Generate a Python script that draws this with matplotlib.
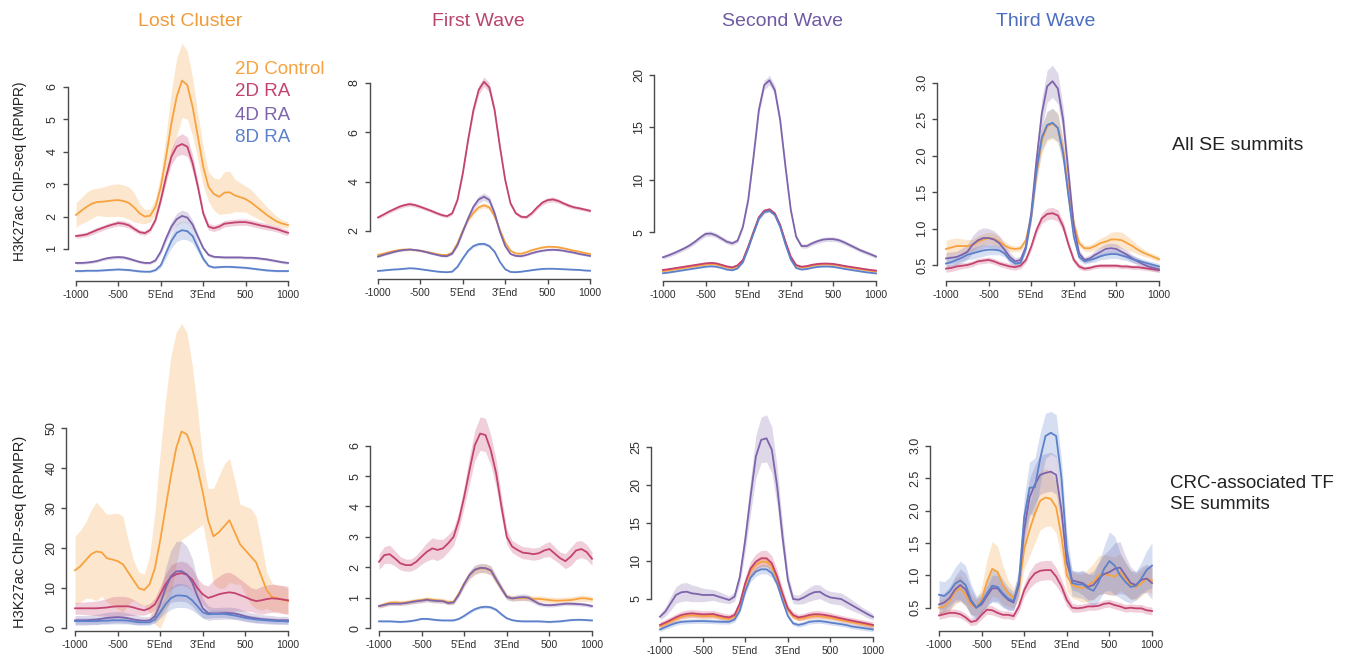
import matplotlib
matplotlib.use("Agg")
import matplotlib.pyplot as plt
import numpy as np

plt.rcParams['font.family'] = ['Liberation Sans', 'DejaVu Sans']

W, H = 1353, 655

# 41 bins: -1000 .. 5'End | gene body | 3'End .. 1000
positions = np.arange(0, 100.1, 2.5)
x_ticks = [0, 20, 40, 60, 80, 100]
x_tick_labels = ['-1000', '-500', "5'End", "3'End", '500', '1000']

samples = ['2D Control', '2D RA', '4D RA', '8D RA']
sample_colors = ['#F7A23E', '#C4426F', '#7D64AB', '#5D80CA']
groups = ['Lost Cluster', 'First Wave', 'Second Wave', 'Third Wave']
group_colors = ['#F39A38', '#B9456F', '#6F5AA3', '#4C6CBE']
row_labels = ['All SE summits', 'CRC-associated TF\nSE summits']
y_label = 'H3K27ac ChIP-seq (RPMPR)'

# ---------------- row 1: all SE summits ----------------
all_lost_ctrl = [2.05, 2.18, 2.30, 2.40, 2.45, 2.46, 2.48, 2.50, 2.51, 2.48,
                 2.42, 2.28, 2.10, 2.00, 2.03, 2.30, 2.92, 3.85, 4.88, 5.70,
                 6.20, 6.06, 5.39, 4.47, 3.54, 2.92, 2.70, 2.61, 2.74, 2.75,
                 2.65, 2.60, 2.54, 2.44, 2.31, 2.18, 2.05, 1.94, 1.84, 1.78,
                 1.74]
all_lost_ctrl_se = [0.38, 0.40, 0.45, 0.45, 0.42, 0.45, 0.48, 0.50, 0.50, 0.50,
                    0.50, 0.45, 0.30, 0.22, 0.20, 0.25, 0.40, 0.70, 1.00, 1.20,
                    1.15, 1.05, 0.90, 0.70, 0.60, 0.45, 0.50, 0.55, 0.65, 0.65,
                    0.50, 0.45, 0.40, 0.40, 0.35, 0.30, 0.25, 0.20, 0.15, 0.12,
                    0.10]
all_lost_ra2 = [1.40, 1.42, 1.45, 1.52, 1.59, 1.65, 1.71, 1.76, 1.80, 1.78,
                1.73, 1.62, 1.52, 1.49, 1.59, 1.90, 2.51, 3.23, 3.85, 4.16,
                4.24, 4.16, 3.65, 2.92, 2.10, 1.69, 1.64, 1.69, 1.78, 1.80,
                1.82, 1.83, 1.83, 1.80, 1.76, 1.72, 1.69, 1.65, 1.61, 1.55,
                1.50]
all_lost_ra2_se = [0.07, 0.07, 0.07, 0.08, 0.08, 0.08, 0.08, 0.08, 0.09, 0.09,
                   0.09, 0.08, 0.07, 0.07, 0.07, 0.08, 0.12, 0.18, 0.25, 0.30,
                   0.32, 0.30, 0.25, 0.18, 0.12, 0.10, 0.10, 0.10, 0.10, 0.10,
                   0.10, 0.10, 0.10, 0.10, 0.10, 0.10, 0.10, 0.09, 0.09, 0.09,
                   0.09]
all_lost_ra4 = [0.57, 0.57, 0.58, 0.60, 0.63, 0.68, 0.72, 0.74, 0.75, 0.74,
                0.70, 0.65, 0.60, 0.57, 0.57, 0.65, 0.92, 1.33, 1.69, 1.92,
                2.02, 1.97, 1.75, 1.38, 1.03, 0.82, 0.76, 0.75, 0.74, 0.74,
                0.74, 0.74, 0.73, 0.73, 0.72, 0.70, 0.68, 0.65, 0.62, 0.59,
                0.57]
all_lost_ra4_se = [0.04, 0.04, 0.04, 0.04, 0.04, 0.04, 0.05, 0.05, 0.05, 0.05,
                   0.05, 0.04, 0.04, 0.04, 0.04, 0.05, 0.08, 0.12, 0.16, 0.18,
                   0.18, 0.17, 0.14, 0.10, 0.06, 0.05, 0.04, 0.04, 0.04, 0.04,
                   0.04, 0.04, 0.04, 0.04, 0.04, 0.04, 0.04, 0.04, 0.04, 0.04,
                   0.04]
all_lost_ra8 = [0.32, 0.32, 0.33, 0.33, 0.33, 0.34, 0.35, 0.36, 0.37, 0.36,
                0.35, 0.33, 0.31, 0.30, 0.30, 0.35, 0.50, 0.88, 1.25, 1.50,
                1.58, 1.55, 1.40, 1.05, 0.70, 0.48, 0.43, 0.44, 0.45, 0.45,
                0.44, 0.43, 0.42, 0.40, 0.38, 0.36, 0.34, 0.33, 0.32, 0.32,
                0.32]
all_lost_ra8_se = [0.03, 0.03, 0.03, 0.03, 0.03, 0.03, 0.03, 0.03, 0.03, 0.03,
                   0.03, 0.03, 0.03, 0.03, 0.03, 0.04, 0.08, 0.15, 0.22, 0.27,
                   0.28, 0.27, 0.22, 0.15, 0.08, 0.04, 0.03, 0.03, 0.03, 0.03,
                   0.03, 0.03, 0.03, 0.03, 0.03, 0.03, 0.03, 0.03, 0.03, 0.03,
                   0.03]

all_first_ctrl = [1.03, 1.08, 1.14, 1.19, 1.23, 1.25, 1.25, 1.23, 1.20, 1.16,
                  1.12, 1.07, 1.03, 1.03, 1.12, 1.50, 2.02, 2.45, 2.74, 2.96,
                  3.04, 2.96, 2.60, 2.04, 1.53, 1.20, 1.09, 1.08, 1.14, 1.22,
                  1.28, 1.33, 1.36, 1.36, 1.34, 1.30, 1.25, 1.20, 1.16, 1.11,
                  1.07]
all_first_ctrl_se = [0.04, 0.04, 0.04, 0.04, 0.04, 0.04, 0.04, 0.04, 0.04, 0.04,
                     0.04, 0.04, 0.04, 0.04, 0.04, 0.05, 0.06, 0.08, 0.09, 0.10,
                     0.10, 0.10, 0.09, 0.07, 0.05, 0.04, 0.04, 0.04, 0.04, 0.04,
                     0.04, 0.04, 0.04, 0.04, 0.04, 0.04, 0.04, 0.04, 0.04, 0.04,
                     0.04]
all_first_ra2 = [2.55, 2.66, 2.78, 2.88, 2.98, 3.05, 3.09, 3.05, 2.98, 2.90,
                 2.82, 2.73, 2.65, 2.60, 2.72, 3.26, 4.34, 5.69, 6.90, 7.72,
                 8.05, 7.82, 6.90, 5.42, 4.07, 3.12, 2.72, 2.58, 2.56, 2.72,
                 2.95, 3.15, 3.25, 3.28, 3.22, 3.12, 3.03, 2.96, 2.92, 2.87,
                 2.82]
all_first_ra2_se = [0.07, 0.07, 0.07, 0.08, 0.08, 0.08, 0.08, 0.08, 0.07, 0.07,
                    0.07, 0.07, 0.07, 0.07, 0.07, 0.08, 0.10, 0.13, 0.16, 0.19,
                    0.20, 0.19, 0.16, 0.13, 0.10, 0.08, 0.07, 0.07, 0.07, 0.08,
                    0.09, 0.10, 0.10, 0.10, 0.09, 0.08, 0.08, 0.07, 0.07, 0.07,
                    0.07]
all_first_ra4 = [0.96, 1.03, 1.09, 1.15, 1.20, 1.23, 1.25, 1.23, 1.20, 1.15,
                 1.09, 1.04, 0.99, 0.98, 1.08, 1.43, 1.97, 2.51, 2.98, 3.28,
                 3.39, 3.26, 2.72, 1.97, 1.39, 1.07, 0.99, 0.98, 1.03, 1.10,
                 1.16, 1.20, 1.23, 1.24, 1.23, 1.20, 1.16, 1.12, 1.07, 1.03,
                 0.99]
all_first_ra4_se = [0.04, 0.04, 0.04, 0.04, 0.04, 0.04, 0.04, 0.04, 0.04, 0.04,
                    0.04, 0.04, 0.04, 0.04, 0.04, 0.05, 0.07, 0.10, 0.13, 0.15,
                    0.15, 0.14, 0.12, 0.09, 0.06, 0.04, 0.04, 0.04, 0.04, 0.04,
                    0.04, 0.04, 0.04, 0.04, 0.04, 0.04, 0.04, 0.04, 0.04, 0.04,
                    0.04]
all_first_ra8 = [0.38, 0.40, 0.42, 0.44, 0.45, 0.47, 0.49, 0.48, 0.45, 0.42,
                 0.39, 0.36, 0.34, 0.33, 0.35, 0.55, 0.89, 1.20, 1.39, 1.47,
                 1.48, 1.39, 1.16, 0.75, 0.45, 0.34, 0.33, 0.35, 0.38, 0.41,
                 0.44, 0.46, 0.47, 0.47, 0.46, 0.45, 0.44, 0.43, 0.42, 0.40,
                 0.39]
all_first_ra8_se = [0.02, 0.02, 0.02, 0.02, 0.02, 0.02, 0.02, 0.02, 0.02, 0.02,
                    0.02, 0.02, 0.02, 0.02, 0.02, 0.03, 0.04, 0.05, 0.06, 0.06,
                    0.06, 0.06, 0.05, 0.04, 0.03, 0.02, 0.02, 0.02, 0.02, 0.02,
                    0.02, 0.02, 0.02, 0.02, 0.02, 0.02, 0.02, 0.02, 0.02, 0.02,
                    0.02]

all_second_ctrl = [1.30, 1.36, 1.44, 1.52, 1.60, 1.68, 1.76, 1.84, 1.92, 1.96,
                   1.92, 1.80, 1.65, 1.58, 1.76, 2.30, 3.55, 4.98, 6.35, 6.98,
                   7.10, 6.72, 5.62, 4.00, 2.58, 1.80, 1.64, 1.70, 1.82, 1.90,
                   1.94, 1.94, 1.90, 1.82, 1.72, 1.64, 1.56, 1.48, 1.40, 1.33,
                   1.27]
all_second_ctrl_se = [0.08, 0.08, 0.08, 0.08, 0.08, 0.08, 0.08, 0.08, 0.08, 0.08,
                      0.08, 0.08, 0.08, 0.08, 0.08, 0.09, 0.11, 0.13, 0.15, 0.15,
                      0.15, 0.15, 0.13, 0.11, 0.09, 0.08, 0.08, 0.08, 0.08, 0.08,
                      0.08, 0.08, 0.08, 0.08, 0.08, 0.08, 0.08, 0.08, 0.08, 0.08,
                      0.08]
all_second_ra2 = [1.41, 1.48, 1.56, 1.64, 1.72, 1.80, 1.88, 1.96, 2.04, 2.08,
                  2.04, 1.90, 1.75, 1.66, 1.85, 2.36, 3.63, 5.06, 6.43, 7.06,
                  7.19, 6.80, 5.70, 4.10, 2.67, 1.88, 1.72, 1.78, 1.90, 1.98,
                  2.02, 2.02, 1.98, 1.90, 1.80, 1.72, 1.64, 1.56, 1.48, 1.41,
                  1.35]
all_second_ra2_se = [0.08, 0.08, 0.08, 0.08, 0.08, 0.09, 0.09, 0.09, 0.09, 0.09,
                     0.09, 0.09, 0.08, 0.08, 0.08, 0.09, 0.11, 0.14, 0.16, 0.17,
                     0.17, 0.16, 0.14, 0.11, 0.09, 0.08, 0.08, 0.08, 0.09, 0.09,
                     0.09, 0.09, 0.09, 0.08, 0.08, 0.08, 0.08, 0.08, 0.08, 0.08,
                     0.08]
all_second_ra4 = [2.62, 2.80, 3.00, 3.23, 3.47, 3.75, 4.10, 4.50, 4.85, 4.88,
                  4.70, 4.40, 4.10, 3.95, 4.20, 5.53, 8.08, 12.20, 16.66, 19.04,
                  19.50, 18.56, 15.70, 11.25, 7.13, 4.58, 3.69, 3.69, 3.95, 4.15,
                  4.30, 4.35, 4.35, 4.25, 4.05, 3.80, 3.55, 3.30, 3.10, 2.90,
                  2.69]
all_second_ra4_se = [0.18, 0.18, 0.19, 0.20, 0.20, 0.21, 0.22, 0.23, 0.24, 0.24,
                     0.23, 0.22, 0.21, 0.20, 0.21, 0.24, 0.30, 0.36, 0.42, 0.45,
                     0.46, 0.45, 0.40, 0.34, 0.27, 0.22, 0.20, 0.20, 0.21, 0.22,
                     0.22, 0.22, 0.22, 0.21, 0.21, 0.20, 0.20, 0.19, 0.19, 0.18,
                     0.18]
all_second_ra8 = [1.10, 1.16, 1.24, 1.32, 1.40, 1.48, 1.56, 1.64, 1.72, 1.76,
                  1.72, 1.60, 1.45, 1.38, 1.56, 2.15, 3.45, 4.90, 6.28, 6.92,
                  7.05, 6.65, 5.52, 3.85, 2.40, 1.60, 1.45, 1.50, 1.62, 1.70,
                  1.74, 1.74, 1.70, 1.62, 1.52, 1.44, 1.36, 1.28, 1.20, 1.14,
                  1.08]
all_second_ra8_se = [0.07, 0.07, 0.07, 0.07, 0.07, 0.07, 0.07, 0.08, 0.08, 0.08,
                     0.08, 0.07, 0.07, 0.07, 0.07, 0.08, 0.10, 0.12, 0.14, 0.15,
                     0.15, 0.14, 0.12, 0.10, 0.08, 0.07, 0.07, 0.07, 0.07, 0.07,
                     0.07, 0.07, 0.07, 0.07, 0.07, 0.07, 0.07, 0.07, 0.07, 0.07,
                     0.07]

all_third_ctrl = [0.72, 0.74, 0.76, 0.76, 0.76, 0.77, 0.82, 0.85, 0.87, 0.86,
                  0.82, 0.77, 0.73, 0.72, 0.73, 0.84, 1.16, 1.76, 2.21, 2.40,
                  2.44, 2.38, 2.08, 1.53, 1.07, 0.80, 0.73, 0.73, 0.76, 0.80,
                  0.82, 0.85, 0.85, 0.84, 0.80, 0.76, 0.71, 0.67, 0.64, 0.61,
                  0.58]
all_third_ctrl_se = [0.12, 0.12, 0.11, 0.10, 0.09, 0.08, 0.08, 0.08, 0.08, 0.08,
                     0.07, 0.06, 0.05, 0.04, 0.04, 0.05, 0.08, 0.13, 0.18, 0.20,
                     0.21, 0.20, 0.17, 0.12, 0.08, 0.05, 0.04, 0.05, 0.06, 0.07,
                     0.08, 0.10, 0.11, 0.11, 0.10, 0.08, 0.06, 0.05, 0.04, 0.04,
                     0.04]
all_third_ra2 = [0.45, 0.46, 0.48, 0.49, 0.50, 0.52, 0.55, 0.56, 0.57, 0.55,
                 0.52, 0.50, 0.48, 0.47, 0.49, 0.57, 0.75, 0.98, 1.14, 1.20,
                 1.21, 1.18, 1.03, 0.78, 0.57, 0.48, 0.45, 0.46, 0.48, 0.49,
                 0.49, 0.49, 0.49, 0.48, 0.48, 0.47, 0.47, 0.46, 0.45, 0.44,
                 0.43]
all_third_ra2_se = [0.05, 0.05, 0.05, 0.04, 0.04, 0.04, 0.04, 0.04, 0.04, 0.04,
                    0.04, 0.04, 0.04, 0.04, 0.04, 0.04, 0.05, 0.06, 0.07, 0.08,
                    0.08, 0.08, 0.07, 0.06, 0.04, 0.04, 0.03, 0.03, 0.03, 0.03,
                    0.03, 0.03, 0.03, 0.03, 0.03, 0.03, 0.03, 0.03, 0.03, 0.03,
                    0.03]
all_third_ra4 = [0.59, 0.60, 0.61, 0.64, 0.68, 0.78, 0.84, 0.87, 0.87, 0.85,
                 0.80, 0.71, 0.61, 0.55, 0.57, 0.75, 1.21, 1.94, 2.58, 2.95,
                 3.02, 2.92, 2.49, 1.76, 1.03, 0.66, 0.57, 0.59, 0.64, 0.68,
                 0.72, 0.73, 0.72, 0.68, 0.64, 0.59, 0.55, 0.51, 0.48, 0.46,
                 0.44]
all_third_ra4_se = [0.08, 0.08, 0.08, 0.09, 0.10, 0.12, 0.14, 0.14, 0.13, 0.12,
                    0.10, 0.08, 0.06, 0.05, 0.05, 0.06, 0.10, 0.15, 0.20, 0.22,
                    0.22, 0.21, 0.18, 0.13, 0.08, 0.05, 0.04, 0.05, 0.06, 0.07,
                    0.07, 0.07, 0.07, 0.06, 0.06, 0.05, 0.05, 0.04, 0.04, 0.04,
                    0.04]
all_third_ra8 = [0.52, 0.54, 0.57, 0.60, 0.64, 0.66, 0.68, 0.70, 0.71, 0.71,
                 0.70, 0.66, 0.57, 0.52, 0.53, 0.73, 1.16, 1.80, 2.25, 2.42,
                 2.45, 2.38, 2.03, 1.44, 0.89, 0.61, 0.55, 0.57, 0.59, 0.62,
                 0.64, 0.65, 0.65, 0.63, 0.61, 0.58, 0.56, 0.54, 0.52, 0.50,
                 0.48]
all_third_ra8_se = [0.07, 0.07, 0.07, 0.07, 0.07, 0.08, 0.08, 0.08, 0.07, 0.07,
                    0.06, 0.05, 0.05, 0.04, 0.04, 0.05, 0.08, 0.13, 0.17, 0.19,
                    0.20, 0.19, 0.16, 0.11, 0.07, 0.05, 0.04, 0.04, 0.05, 0.05,
                    0.06, 0.06, 0.06, 0.06, 0.05, 0.05, 0.04, 0.04, 0.04, 0.04,
                    0.04]

# ---------------- row 2: CRC-associated TF SE summits ----------------
crc_lost_ctrl = [14.5, 15.5, 17.0, 18.5, 19.2, 19.0, 17.5, 17.2, 16.8, 16.0,
                 14.0, 12.0, 10.0, 9.6, 11.0, 15.0, 22.0, 30.0, 38.0, 45.0,
                 49.2, 48.5, 45.0, 40.0, 34.0, 27.0, 23.0, 24.0, 25.5, 27.0,
                 24.0, 21.0, 19.5, 18.0, 16.5, 13.0, 9.5, 7.8, 7.5, 7.2,
                 6.8]
crc_lost_ctrl_se = [8.5, 9.0, 9.5, 11.0, 12.3, 11.0, 11.0, 11.5, 12.0, 12.0,
                    8.0, 5.0, 4.0, 4.0, 7.0, 14.0, 22.0, 27.0, 30.0, 29.0,
                    27.0, 25.5, 21.0, 15.0, 8.0, 8.0, 12.0, 14.0, 15.5, 15.5,
                    13.0, 10.0, 11.0, 12.0, 11.5, 8.5, 4.5, 3.5, 3.2, 3.4,
                    3.2]
crc_lost_ra2 = [5.0, 5.0, 5.0, 5.0, 5.0, 5.1, 5.2, 5.4, 5.5, 5.5,
                5.5, 5.2, 4.8, 4.5, 5.0, 6.0, 8.5, 11.0, 12.8, 13.5,
                13.8, 13.4, 12.2, 10.0, 8.5, 7.6, 8.0, 8.5, 8.8, 9.0,
                8.8, 8.3, 7.8, 7.2, 6.8, 7.0, 7.3, 7.5, 7.4, 7.2,
                7.0]
crc_lost_ra2_se = [1.5, 1.5, 1.6, 1.7, 1.8, 2.0, 2.2, 2.5, 2.5, 2.5,
                   2.3, 2.0, 1.5, 1.2, 1.2, 1.5, 2.0, 2.5, 3.0, 3.0,
                   3.0, 3.0, 2.8, 2.5, 2.5, 3.0, 4.0, 4.5, 5.0, 5.0,
                   4.5, 4.0, 3.5, 3.0, 3.0, 3.5, 3.5, 3.5, 3.5, 3.5,
                   3.5]
crc_lost_ra4 = [2.0, 2.0, 2.0, 2.1, 2.2, 2.4, 2.6, 2.7, 2.8, 2.7,
                2.5, 2.2, 2.0, 1.9, 2.0, 3.0, 6.0, 10.0, 13.0, 14.2,
                14.3, 13.5, 11.5, 8.0, 5.0, 3.8, 3.7, 3.7, 3.8, 3.8,
                3.7, 3.4, 3.0, 2.7, 2.5, 2.3, 2.2, 2.1, 2.0, 2.0,
                2.0]
crc_lost_ra4_se = [1.2, 1.2, 1.2, 1.2, 1.3, 1.3, 1.4, 1.4, 1.4, 1.4,
                   1.3, 1.2, 1.1, 1.0, 1.0, 1.5, 3.0, 5.0, 6.5, 7.5,
                   7.5, 7.0, 6.0, 4.0, 2.5, 1.8, 1.5, 1.5, 1.5, 1.5,
                   1.5, 1.4, 1.3, 1.2, 1.2, 1.1, 1.1, 1.1, 1.0, 1.0,
                   1.0]
crc_lost_ra8 = [1.8, 1.8, 1.8, 1.8, 1.8, 1.9, 1.9, 2.0, 2.0, 2.0,
                1.9, 1.7, 1.5, 1.5, 1.5, 2.2, 4.0, 6.0, 7.5, 8.2,
                8.2, 8.0, 7.0, 5.5, 4.0, 3.5, 3.6, 3.6, 3.6, 3.4,
                3.2, 2.9, 2.6, 2.4, 2.2, 2.1, 2.0, 1.9, 1.8, 1.8,
                1.7]
crc_lost_ra8_se = [0.8, 0.8, 0.8, 0.8, 0.8, 0.8, 0.9, 0.9, 0.9, 0.9,
                   0.8, 0.8, 0.7, 0.7, 0.7, 0.9, 1.5, 2.2, 2.8, 3.0,
                   3.0, 2.9, 2.5, 2.0, 1.4, 1.0, 0.9, 0.9, 0.9, 0.9,
                   0.9, 0.8, 0.8, 0.8, 0.8, 0.7, 0.7, 0.7, 0.7, 0.7,
                   0.7]

crc_first_ctrl = [0.72, 0.78, 0.83, 0.84, 0.83, 0.84, 0.87, 0.90, 0.92, 0.95,
                  0.93, 0.91, 0.90, 0.85, 0.86, 1.14, 1.47, 1.74, 1.91, 1.96,
                  1.96, 1.89, 1.58, 1.30, 1.03, 0.98, 0.98, 0.98, 0.98, 0.96,
                  0.96, 0.94, 0.92, 0.90, 0.90, 0.91, 0.92, 0.95, 0.98, 0.97,
                  0.94]
crc_first_ctrl_se = [0.08, 0.08, 0.08, 0.08, 0.08, 0.08, 0.08, 0.08, 0.08, 0.08,
                     0.08, 0.08, 0.08, 0.08, 0.08, 0.09, 0.11, 0.13, 0.15, 0.15,
                     0.15, 0.15, 0.13, 0.11, 0.09, 0.08, 0.08, 0.08, 0.09, 0.09,
                     0.10, 0.10, 0.10, 0.11, 0.11, 0.11, 0.11, 0.11, 0.11, 0.10,
                     0.10]
crc_first_ra2 = [2.18, 2.40, 2.43, 2.29, 2.13, 2.07, 2.07, 2.18, 2.35, 2.51,
                 2.62, 2.57, 2.62, 2.79, 3.00, 3.55, 4.32, 5.20, 6.02, 6.40,
                 6.35, 5.85, 5.09, 3.99, 3.00, 2.68, 2.57, 2.48, 2.46, 2.43,
                 2.46, 2.55, 2.60, 2.45, 2.30, 2.20, 2.35, 2.55, 2.60, 2.50,
                 2.28]
crc_first_ra2_se = [0.25, 0.28, 0.30, 0.25, 0.22, 0.20, 0.20, 0.22, 0.25, 0.30,
                    0.35, 0.35, 0.30, 0.28, 0.28, 0.30, 0.35, 0.45, 0.50, 0.55,
                    0.55, 0.50, 0.45, 0.35, 0.25, 0.20, 0.20, 0.20, 0.20, 0.20,
                    0.20, 0.22, 0.25, 0.22, 0.20, 0.25, 0.30, 0.30, 0.28, 0.25,
                    0.22]
crc_first_ra4 = [0.72, 0.76, 0.80, 0.80, 0.80, 0.82, 0.85, 0.88, 0.90, 0.93,
                 0.90, 0.89, 0.88, 0.82, 0.84, 1.10, 1.45, 1.75, 1.92, 1.98,
                 1.97, 1.90, 1.60, 1.30, 1.02, 0.97, 1.00, 1.02, 1.00, 0.90,
                 0.80, 0.76, 0.75, 0.76, 0.78, 0.80, 0.80, 0.79, 0.78, 0.76,
                 0.72]
crc_first_ra4_se = [0.06, 0.06, 0.06, 0.06, 0.06, 0.06, 0.07, 0.07, 0.07, 0.07,
                    0.07, 0.07, 0.06, 0.06, 0.06, 0.08, 0.10, 0.13, 0.15, 0.15,
                    0.15, 0.15, 0.13, 0.11, 0.09, 0.09, 0.10, 0.11, 0.10, 0.09,
                    0.07, 0.06, 0.06, 0.06, 0.06, 0.06, 0.06, 0.06, 0.06, 0.06,
                    0.06]
crc_first_ra8 = [0.22, 0.22, 0.22, 0.21, 0.20, 0.21, 0.23, 0.26, 0.30, 0.30,
                 0.28, 0.26, 0.25, 0.25, 0.25, 0.30, 0.40, 0.52, 0.62, 0.68,
                 0.70, 0.68, 0.60, 0.45, 0.32, 0.26, 0.23, 0.22, 0.22, 0.22,
                 0.22, 0.21, 0.20, 0.21, 0.22, 0.24, 0.26, 0.27, 0.27, 0.26,
                 0.25]
crc_first_ra8_se = [0.03, 0.03, 0.03, 0.03, 0.03, 0.03, 0.03, 0.03, 0.03, 0.03,
                    0.03, 0.03, 0.03, 0.03, 0.03, 0.03, 0.04, 0.05, 0.05, 0.05,
                    0.05, 0.05, 0.05, 0.04, 0.03, 0.03, 0.03, 0.03, 0.03, 0.03,
                    0.03, 0.03, 0.03, 0.03, 0.03, 0.03, 0.03, 0.03, 0.03, 0.03,
                    0.03]

crc_second_ctrl = [1.40, 1.70, 2.02, 2.36, 2.65, 2.80, 2.86, 2.80, 2.75, 2.76,
                   2.78, 2.62, 2.46, 2.38, 2.70, 4.20, 6.75, 8.65, 9.50, 9.90,
                   9.90, 9.25, 7.55, 5.45, 3.55, 2.68, 2.38, 2.48, 2.66, 2.76,
                   2.75, 2.66, 2.54, 2.40, 2.24, 2.10, 1.96, 1.84, 1.72, 1.58,
                   1.45]
crc_second_ctrl_se = [0.30, 0.30, 0.30, 0.32, 0.34, 0.35, 0.35, 0.35, 0.34, 0.34,
                      0.34, 0.33, 0.32, 0.30, 0.32, 0.40, 0.55, 0.65, 0.70, 0.72,
                      0.72, 0.70, 0.62, 0.50, 0.38, 0.32, 0.30, 0.32, 0.34, 0.35,
                      0.35, 0.34, 0.33, 0.32, 0.31, 0.30, 0.30, 0.30, 0.30, 0.30,
                      0.30]
crc_second_ra2 = [1.60, 1.90, 2.24, 2.60, 2.90, 3.05, 3.12, 3.05, 2.99, 3.00,
                  3.03, 2.85, 2.68, 2.59, 2.90, 4.43, 7.06, 9.00, 9.90, 10.34,
                  10.34, 9.68, 7.93, 5.74, 3.77, 2.90, 2.59, 2.70, 2.90, 3.00,
                  2.99, 2.90, 2.77, 2.62, 2.46, 2.30, 2.16, 2.02, 1.89, 1.74,
                  1.59]
crc_second_ra2_se = [0.40, 0.40, 0.42, 0.45, 0.48, 0.50, 0.50, 0.50, 0.48, 0.48,
                     0.48, 0.46, 0.44, 0.42, 0.45, 0.60, 0.80, 0.95, 1.00, 1.05,
                     1.05, 1.00, 0.90, 0.70, 0.50, 0.44, 0.42, 0.44, 0.46, 0.48,
                     0.48, 0.46, 0.44, 0.42, 0.40, 0.40, 0.40, 0.40, 0.40, 0.40,
                     0.40]
crc_second_ra4 = [2.68, 3.34, 4.43, 5.53, 5.88, 5.96, 5.74, 5.66, 5.53, 5.53,
                  5.53, 5.31, 5.09, 4.87, 5.31, 7.93, 12.74, 18.43, 23.70, 25.90,
                  26.10, 24.60, 19.80, 13.20, 7.53, 5.00, 4.90, 5.20, 5.60, 5.90,
                  5.95, 5.50, 5.20, 5.10, 5.00, 4.60, 4.20, 3.80, 3.40, 3.00,
                  2.65]
crc_second_ra4_se = [0.40, 0.60, 0.90, 1.10, 1.20, 1.20, 1.10, 1.00, 0.90, 0.80,
                     0.70, 0.70, 0.60, 0.50, 0.60, 0.90, 1.50, 2.20, 2.80, 3.00,
                     3.10, 3.00, 2.50, 1.80, 1.00, 0.60, 0.60, 0.80, 0.90, 1.00,
                     0.90, 0.80, 0.80, 0.80, 0.80, 0.80, 0.70, 0.60, 0.50, 0.50,
                     0.40]
crc_second_ra8 = [1.00, 1.30, 1.60, 1.85, 2.00, 2.05, 2.08, 2.10, 2.10, 2.08,
                  2.05, 2.02, 2.00, 2.00, 2.30, 3.50, 6.00, 7.80, 8.60, 8.90,
                  8.90, 8.40, 7.00, 4.80, 2.80, 1.80, 1.60, 1.75, 2.00, 2.08,
                  2.10, 2.02, 1.90, 1.80, 1.70, 1.58, 1.40, 1.30, 1.20, 1.10,
                  1.00]
crc_second_ra8_se = [0.30, 0.30, 0.30, 0.30, 0.30, 0.30, 0.30, 0.30, 0.30, 0.30,
                     0.30, 0.30, 0.30, 0.30, 0.32, 0.38, 0.48, 0.55, 0.60, 0.60,
                     0.60, 0.58, 0.50, 0.40, 0.32, 0.30, 0.30, 0.30, 0.30, 0.30,
                     0.30, 0.30, 0.30, 0.30, 0.30, 0.30, 0.30, 0.30, 0.30, 0.30,
                     0.30]

crc_third_ctrl = [0.50, 0.52, 0.60, 0.75, 0.80, 0.70, 0.55, 0.50, 0.62, 0.90,
                  1.10, 1.05, 0.85, 0.72, 0.65, 0.80, 1.40, 1.70, 1.95, 2.15,
                  2.20, 2.18, 2.05, 1.60, 1.00, 0.85, 0.82, 0.80, 0.85, 0.90,
                  1.00, 1.02, 1.00, 0.98, 1.05, 0.95, 0.85, 0.82, 0.88, 0.95,
                  0.92]
crc_third_ctrl_se = [0.12, 0.12, 0.15, 0.20, 0.20, 0.18, 0.15, 0.12, 0.20, 0.35,
                     0.42, 0.40, 0.30, 0.20, 0.15, 0.20, 0.30, 0.40, 0.45, 0.45,
                     0.45, 0.42, 0.40, 0.35, 0.25, 0.20, 0.20, 0.22, 0.25, 0.28,
                     0.30, 0.30, 0.30, 0.30, 0.28, 0.25, 0.22, 0.20, 0.20, 0.20,
                     0.20]
crc_third_ra2 = [0.38, 0.40, 0.42, 0.42, 0.40, 0.35, 0.28, 0.30, 0.39, 0.47,
                 0.46, 0.42, 0.39, 0.39, 0.37, 0.52, 0.77, 0.93, 1.03, 1.07,
                 1.08, 1.08, 0.98, 0.83, 0.62, 0.50, 0.49, 0.50, 0.52, 0.52,
                 0.53, 0.56, 0.57, 0.54, 0.52, 0.49, 0.50, 0.49, 0.49, 0.46,
                 0.45]
crc_third_ra2_se = [0.06, 0.06, 0.06, 0.06, 0.06, 0.06, 0.06, 0.06, 0.07, 0.07,
                    0.07, 0.06, 0.06, 0.06, 0.06, 0.08, 0.10, 0.13, 0.15, 0.15,
                    0.15, 0.15, 0.14, 0.12, 0.10, 0.07, 0.06, 0.06, 0.06, 0.06,
                    0.06, 0.06, 0.06, 0.06, 0.06, 0.06, 0.06, 0.06, 0.06, 0.06,
                    0.06]
crc_third_ra4 = [0.55, 0.58, 0.65, 0.78, 0.85, 0.78, 0.60, 0.50, 0.55, 0.68,
                 0.80, 0.80, 0.70, 0.62, 0.58, 0.85, 1.70, 2.20, 2.40, 2.55,
                 2.58, 2.60, 2.55, 2.00, 1.20, 0.92, 0.90, 0.88, 0.82, 0.85,
                 0.95, 1.02, 1.05, 1.10, 1.12, 1.00, 0.88, 0.85, 0.93, 0.95,
                 0.88]
crc_third_ra4_se = [0.15, 0.15, 0.18, 0.20, 0.25, 0.25, 0.20, 0.15, 0.12, 0.15,
                    0.20, 0.20, 0.18, 0.15, 0.12, 0.15, 0.25, 0.30, 0.30, 0.30,
                    0.30, 0.30, 0.30, 0.25, 0.20, 0.15, 0.15, 0.18, 0.20, 0.22,
                    0.25, 0.30, 0.35, 0.40, 0.40, 0.30, 0.25, 0.20, 0.20, 0.22,
                    0.25]
crc_third_ra8 = [0.70, 0.68, 0.75, 0.87, 0.92, 0.85, 0.62, 0.50, 0.58, 0.72,
                 0.84, 0.82, 0.72, 0.64, 0.60, 0.90, 1.90, 2.35, 2.36, 2.80,
                 3.15, 3.20, 3.15, 2.50, 1.40, 0.88, 0.86, 0.86, 0.80, 0.76,
                 0.90, 1.10, 1.22, 1.15, 1.00, 0.90, 0.82, 0.84, 0.95, 1.08,
                 1.15]
crc_third_ra8_se = [0.22, 0.22, 0.22, 0.25, 0.30, 0.30, 0.25, 0.18, 0.15, 0.20,
                    0.25, 0.25, 0.22, 0.18, 0.15, 0.20, 0.30, 0.40, 0.45, 0.40,
                    0.35, 0.33, 0.33, 0.30, 0.25, 0.20, 0.20, 0.22, 0.22, 0.25,
                    0.30, 0.35, 0.45, 0.45, 0.35, 0.30, 0.25, 0.22, 0.25, 0.30,
                    0.35]

panel_means = [
    [all_lost_ctrl, all_lost_ra2, all_lost_ra4, all_lost_ra8],
    [all_first_ctrl, all_first_ra2, all_first_ra4, all_first_ra8],
    [all_second_ctrl, all_second_ra2, all_second_ra4, all_second_ra8],
    [all_third_ctrl, all_third_ra2, all_third_ra4, all_third_ra8],
    [crc_lost_ctrl, crc_lost_ra2, crc_lost_ra4, crc_lost_ra8],
    [crc_first_ctrl, crc_first_ra2, crc_first_ra4, crc_first_ra8],
    [crc_second_ctrl, crc_second_ra2, crc_second_ra4, crc_second_ra8],
    [crc_third_ctrl, crc_third_ra2, crc_third_ra4, crc_third_ra8],
]
panel_se = [
    [all_lost_ctrl_se, all_lost_ra2_se, all_lost_ra4_se, all_lost_ra8_se],
    [all_first_ctrl_se, all_first_ra2_se, all_first_ra4_se, all_first_ra8_se],
    [all_second_ctrl_se, all_second_ra2_se, all_second_ra4_se, all_second_ra8_se],
    [all_third_ctrl_se, all_third_ra2_se, all_third_ra4_se, all_third_ra8_se],
    [crc_lost_ctrl_se, crc_lost_ra2_se, crc_lost_ra4_se, crc_lost_ra8_se],
    [crc_first_ctrl_se, crc_first_ra2_se, crc_first_ra4_se, crc_first_ra8_se],
    [crc_second_ctrl_se, crc_second_ra2_se, crc_second_ra4_se, crc_second_ra8_se],
    [crc_third_ctrl_se, crc_third_ra2_se, crc_third_ra4_se, crc_third_ra8_se],
]
panel_yticks = [
    [1, 2, 3, 4, 5, 6], [2, 4, 6, 8], [5, 10, 15, 20],
    [0.5, 1.0, 1.5, 2.0, 2.5, 3.0],
    [0, 10, 20, 30, 40, 50], [0, 1, 2, 3, 4, 5, 6], [5, 10, 15, 20, 25],
    [0.5, 1.0, 1.5, 2.0, 2.5, 3.0],
]

# layout in pixels: x of -1000 / 1000, y of the x axis, top of plot region,
# and two (value, pixel) pairs that pin the y scale
frames = [
    (76, 288, 281, 36, (1, 249), (6, 87)),
    (378, 590, 279, 36, (2, 231), (8, 83)),
    (663, 876, 281, 36, (5, 232.3), (20, 75)),
    (946, 1159, 281, 36, (0.5, 265), (3.0, 82.7)),
    (75, 288, 631, 318, (0, 628.3), (50, 428.3)),
    (379, 592, 631, 318, (0, 628), (6, 445.7)),
    (660, 873, 637, 318, (5, 599), (25, 446.7)),
    (939, 1152, 631, 318, (0.5, 607.7), (3.0, 445.7)),
]

axis_color = '#4a4a4a'
text_color = '#2e2e2e'

fig = plt.figure(figsize=(W / 100, H / 100), dpi=100)

for i, (x0, x1, yb, yt, (v0, p0), (v1, p1)) in enumerate(frames):
    m = 0.04 * (x1 - x0)
    left, right = x0 - m, x1 + m
    ax = fig.add_axes([left / W, 1 - yb / H, (right - left) / W, (yb - yt) / H])
    ax.patch.set_visible(False)
    scale = (p0 - p1) / (v1 - v0)
    ax.set_xlim(-4, 104)
    ax.set_ylim(v0 - (yb - p0) / scale, v0 + (p0 - yt) / scale)

    for mean, se, color in zip(panel_means[i], panel_se[i], sample_colors):
        mean = np.asarray(mean)
        se = np.asarray(se)
        ax.fill_between(positions, mean - se, mean + se, color=color,
                        alpha=0.25, lw=0)
    for mean, color in zip(panel_means[i], sample_colors):
        ax.plot(positions, mean, color=color, lw=1.3)

    for s in ['top', 'right']:
        ax.spines[s].set_visible(False)
    for s in ['left', 'bottom']:
        ax.spines[s].set_color(axis_color)
        ax.spines[s].set_linewidth(1.0)
    yt_vals = panel_yticks[i]
    ax.spines['left'].set_bounds(yt_vals[0], yt_vals[-1])
    ax.spines['bottom'].set_bounds(0, 100)

    ax.set_xticks(x_ticks)
    ax.set_xticklabels(x_tick_labels)
    ax.set_yticks(yt_vals)
    if isinstance(yt_vals[0], float):
        ax.set_yticklabels(['%.1f' % v for v in yt_vals])
    else:
        ax.set_yticklabels([str(v) for v in yt_vals])
    ax.tick_params(axis='both', direction='out', length=3.5, width=1.0,
                   color=axis_color, labelcolor=text_color)
    ax.tick_params(axis='x', labelsize=7.5, pad=3)
    ax.tick_params(axis='y', labelsize=9, pad=3, labelrotation=90)
    for lab in ax.get_yticklabels():
        lab.set_verticalalignment('center')

# column titles
title_x = [190, 478, 783, 1046]
for name, color, tx in zip(groups, group_colors, title_x):
    fig.text(tx / W, 1 - 21 / H, name, color=color, fontsize=14,
             ha='center', va='center')

# legend as coloured text
for k, (name, color) in enumerate(zip(samples, sample_colors)):
    fig.text(235 / W, 1 - (69 + 23 * k) / H, name, color=color,
             fontsize=13.5, ha='left', va='center')

# row labels
fig.text(1172 / W, 1 - 146 / H, row_labels[0], fontsize=14, color='#222222',
         ha='left', va='center')
fig.text(1170 / W, 1 - 494 / H, row_labels[1], fontsize=13.5, color='#222222',
         ha='left', va='center', linespacing=1.3)

# y axis labels
fig.text(20 / W, 1 - 171 / H, y_label, rotation=90, fontsize=9.8,
         color='#222222', ha='center', va='center')
fig.text(20 / W, 1 - 532 / H, y_label, rotation=90, fontsize=10.5,
         color='#222222', ha='center', va='center')

fig.savefig('out.png', dpi=100)
